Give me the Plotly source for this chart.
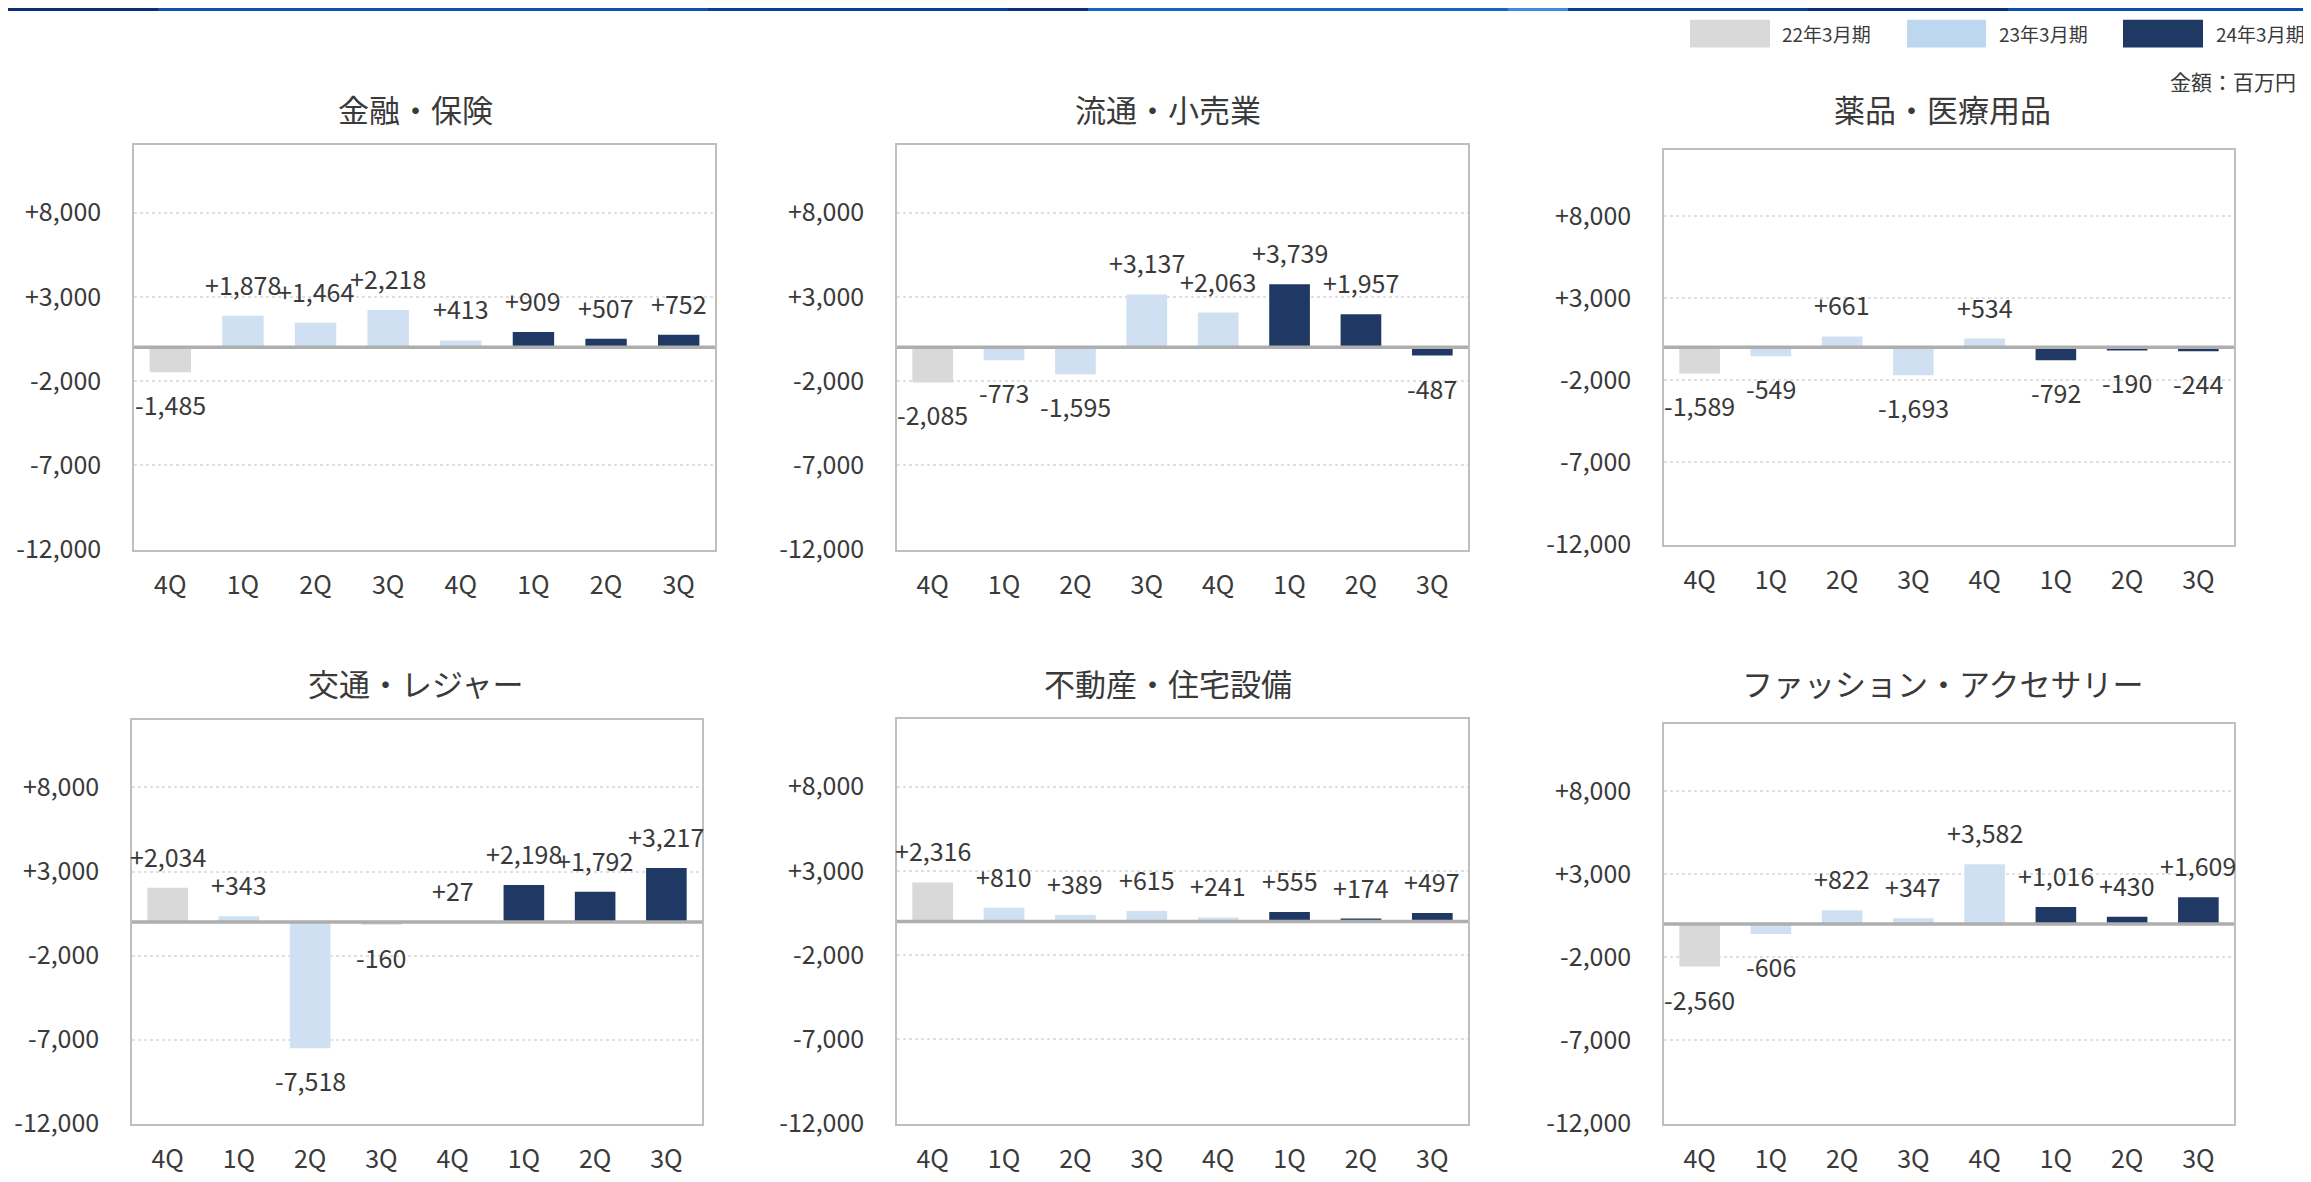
import plotly.graph_objects as go

W, H = 2311, 1182

quarters = ["4Q", "1Q", "2Q", "3Q", "4Q", "1Q", "2Q", "3Q"]
series_names = ["22年3月期", "23年3月期", "24年3月期"]
series_index = [[0], [1, 2, 3, 4], [5, 6, 7]]
bar_colors = ["#D9D9D9", "#CFE0F2", "#203864"]
legend_colors = ["#D9D9D9", "#BDD7EE", "#203864"]

titles = ["金融・保険", "流通・小売業", "薬品・医療用品",
          "交通・レジャー", "不動産・住宅設備", "ファッション・アクセサリー"]

finance = [-1485, 1878, 1464, 2218, 413, 909, 507, 752]
retail = [-2085, -773, -1595, 3137, 2063, 3739, 1957, -487]
medical = [-1589, -549, 661, -1693, 534, -792, -190, -244]
leisure = [2034, 343, -7518, -160, 27, 2198, 1792, 3217]
realestate = [2316, 810, 389, 615, 241, 555, 174, 497]
fashion = [-2560, -606, 822, 347, 3582, 1016, 430, 1609]
panels = [finance, retail, medical, leisure, realestate, fashion]

y_ticks = [-12000, -7000, -2000, 3000, 8000]
y_range = [-12000, 12000]

# panel plot-area boxes in pixels: (left, right, top, bottom)
boxes = [(126, 707, 139, 549), (889, 1460, 139, 549), (1656, 2226, 144, 544),
         (124, 694, 722, 1131), (889, 1460, 721, 1131), (1656, 2226, 726, 1131)]
title_pos = [(407, 102), (1160, 102), (1934, 102), (407, 684), (1160, 684), (1934, 684)]

FONT = "Noto Sans CJK JP"
TXT = "#3A3A3A"
NUM_SIZE = 25

fig = go.Figure()
annotations = []
shapes = []
layout_axes = {}

for p, vals in enumerate(panels):
    n = p + 1
    xa = "x" if n == 1 else f"x{n}"
    ya = "y" if n == 1 else f"y{n}"
    for s, idxs in enumerate(series_index):
        fig.add_trace(go.Bar(
            x=idxs, y=[vals[i] for i in idxs], width=0.57,
            marker=dict(color=bar_colors[s], line=dict(width=0)),
            name=series_names[s], showlegend=False,
            xaxis=xa, yaxis=ya, hoverinfo="skip"))
    for i, v in enumerate(vals):
        annotations.append(dict(
            x=i, y=v, xref=xa, yref=ya, text=f"{v:+,}", showarrow=False,
            yshift=32 if v >= 0 else -32, yanchor="middle",
            font=dict(family=FONT, size=NUM_SIZE, color=TXT)))
    l, r, t, b = boxes[p]
    layout_axes["xaxis" if n == 1 else f"xaxis{n}"] = dict(
        domain=[l / W, r / W], anchor=ya, range=[-0.5, 7.5],
        tickvals=list(range(8)), ticktext=quarters, ticks="",
        ticklabelstandoff=13, showgrid=False, zeroline=False,
        showline=True, mirror=True, linecolor="#BFBFBF", linewidth=1.5,
        tickfont=dict(family=FONT, size=NUM_SIZE, color=TXT), fixedrange=True)
    layout_axes["yaxis" if n == 1 else f"yaxis{n}"] = dict(
        domain=[1 - b / H, 1 - t / H], anchor=xa, range=y_range,
        tickvals=y_ticks, ticktext=[f"{v:+,}" for v in y_ticks], ticks="",
        ticklabelstandoff=26, showgrid=True, gridcolor="#E0E0E0", griddash="dot",
        gridwidth=1.5, zeroline=False,
        showline=True, mirror=True, linecolor="#BFBFBF", linewidth=1.5,
        tickfont=dict(family=FONT, size=NUM_SIZE, color=TXT), fixedrange=True)
    shapes.append(dict(type="line", xref=f"{xa} domain", yref=ya, x0=0, x1=1,
                       y0=0, y1=0, line=dict(color="#AEAEAE", width=3.5), layer="above"))
    tx, ty = title_pos[p]
    annotations.append(dict(x=tx / W, y=1 - ty / H, xref="paper", yref="paper",
                            text=titles[p], showarrow=False, xanchor="center",
                            yanchor="middle",
                            font=dict(family=FONT, size=31, color=TXT)))

# top decorative strip
strip = [(0, 150, "#0B2D72"), (150, 700, "#0E4FB0"), (700, 1000, "#0A3C9A"),
         (1000, 1080, "#0B2F80"), (1080, 1500, "#1565C8"), (1500, 1560, "#3D8BE0"),
         (1560, 1800, "#0C3E95"), (1800, 2000, "#0A2E78"), (2000, 2311, "#0E4DB0")]
for x0, x1, c in strip:
    shapes.append(dict(type="rect", xref="paper", yref="paper", x0=x0 / W, x1=x1 / W,
                       y0=1 - 3 / H, y1=1, fillcolor=c, line=dict(width=0), layer="above"))

# legend (manual)
leg_x = [(1682, 1762, 1772), (1899, 1978, 1989), (2115, 2195, 2206)]
for s, (x0, x1, tx) in enumerate(leg_x):
    shapes.append(dict(type="rect", xref="paper", yref="paper", x0=x0 / W, x1=x1 / W,
                       y0=1 - 40 / H, y1=1 - 12 / H, fillcolor=legend_colors[s],
                       line=dict(width=0)))
    annotations.append(dict(x=tx / W, y=1 - 26 / H, xref="paper", yref="paper",
                            text=series_names[s], showarrow=False, xanchor="left",
                            yanchor="middle", font=dict(family=FONT, size=19, color=TXT)))

annotations.append(dict(x=2290 / W, y=1 - 74 / H, xref="paper", yref="paper",
                        text="金額：百万円", showarrow=False, xanchor="right",
                        yanchor="middle", font=dict(family=FONT, size=21, color=TXT)))

fig.update_layout(
    width=W, height=H, margin=dict(l=0, r=0, t=0, b=0),
    paper_bgcolor="white", plot_bgcolor="white",
    barmode="overlay", showlegend=False,
    annotations=annotations, shapes=shapes, **layout_axes)

fig.write_html("out.html", config={"displayModeBar": False})
